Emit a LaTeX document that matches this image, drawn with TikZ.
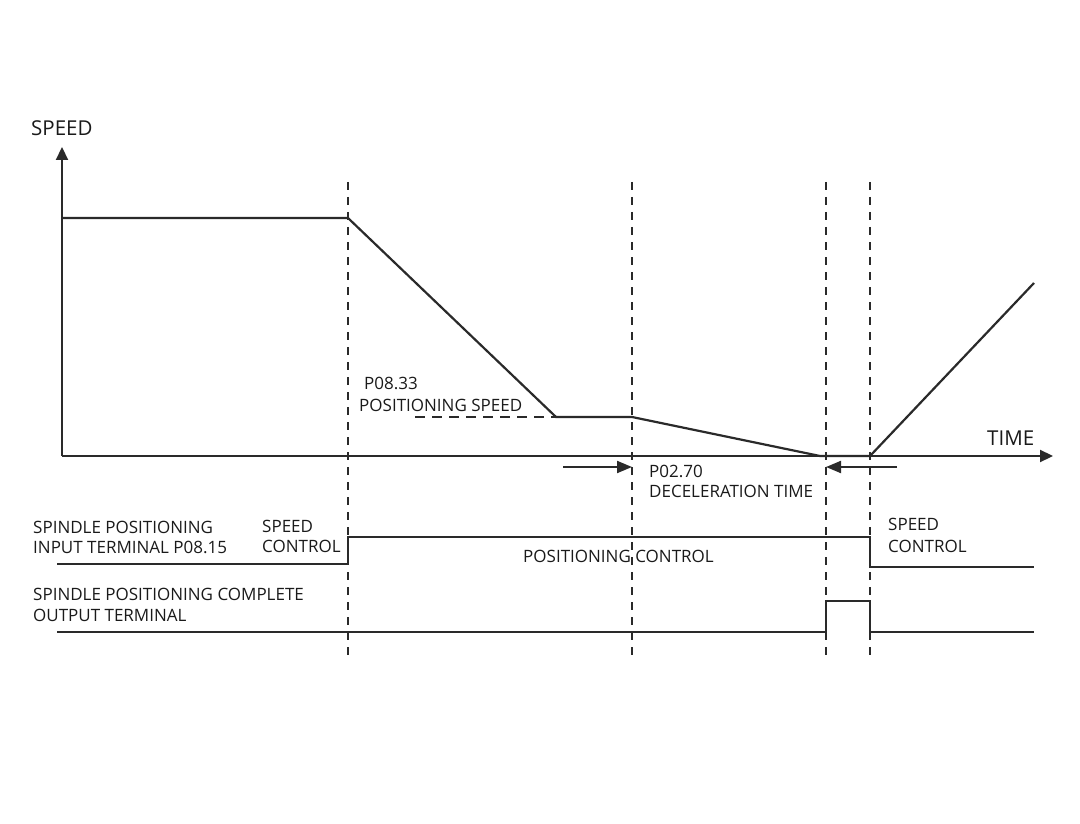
\documentclass[tikz,border=0pt]{standalone}
\usepackage{fontspec}
\setmainfont{Open Sans}
\usetikzlibrary{positioning,arrows.meta}
\definecolor{LineDark}{HTML}{2A2A2A}
\definecolor{TextDark}{HTML}{1A1A1A}

\begin{document}
\begin{tikzpicture}[x=1pt,y=-1pt,
    trace/.style={draw=LineDark, line width=2.2pt, line join=miter},
    guide/.style={draw=LineDark, line width=1.7pt, dash pattern=on 8pt off 7pt},
    level/.style={draw=LineDark, line width=1.7pt, dash pattern=on 10pt off 7pt},
    axisarrow/.style={draw=LineDark, line width=2.2pt, -{Triangle[length=13pt,width=12pt]}},
    timearrow/.style={draw=LineDark, line width=2pt, -{Triangle[length=15pt,width=12pt]}},
    lbl/.style={anchor=base west, inner sep=0pt, text=TextDark, font=\fontsize{17}{21}\selectfont},
    biglbl/.style={lbl, font=\fontsize{20.5}{24}\selectfont}]
  \useasboundingbox (0,0) rectangle (1080,824);

  % axes
  \coordinate (origin) at (62,456);
  \coordinate (ytip) at (62,147);
  \coordinate (xtip) at (1053,456);
  \draw[axisarrow] (origin) -- (ytip);
  \draw[axisarrow] (origin) -- (xtip);
  \node[biglbl] (speedlbl) at (31,136) {SPEED};
  \node[biglbl] (timelbl) at (987,445) {TIME};

  % guide lines
  \foreach \name/\xx in {ga/348, gb/632, gc/826, gd/870} {
    \coordinate (\name top) at (\xx,182);
    \coordinate (\name bot) at (\xx,658);
    \draw[guide] (\name top) -- (\name bot);
  }

  % speed profile
  \coordinate (s0) at (62,218);
  \coordinate (s1) at (348,218);
  \coordinate (s2) at (556,417);
  \coordinate (s3) at (632,417);
  \coordinate (s4) at (820,456);
  \coordinate (s5) at (870,456);
  \coordinate (s6) at (1034,283);
  \draw[trace] (s0) -- (s1) -- (s2) -- (s3) -- (s4) -- (s5) -- (s6);
  \coordinate (lvl) at (415,417);
  \draw[level] (lvl) -- (s2);
  \node[lbl] (possp1) at (364,389) {P08.33};
  \node[lbl] (possp2) at (359,411) {POSITIONING SPEED};

  % deceleration time
  \coordinate (da) at (563,467);
  \coordinate (db) at (632,467);
  \coordinate (dc) at (897,467);
  \coordinate (dd) at (826,467);
  \draw[timearrow] (da) -- (db);
  \draw[timearrow] (dc) -- (dd);
  \node[lbl] (dec1) at (649,477) {P02.70};
  \node[lbl] (dec2) at (649,497) {DECELERATION TIME};

  % positioning input terminal
  \coordinate (i0) at (57,564);
  \coordinate (i1) at (348,564);
  \coordinate (i2) at (348,537);
  \coordinate (i3) at (870,537);
  \coordinate (i4) at (870,567);
  \coordinate (i5) at (1034,567);
  \draw[trace] (i0) -- (i1) -- (i2) -- (i3) -- (i4) -- (i5);
  \node[lbl] (in1) at (33,533) {SPINDLE POSITIONING};
  \node[lbl] (in2) at (33,553) {INPUT TERMINAL P08.15};
  \node[lbl] (sc1) at (262,532) {SPEED};
  \node[lbl] (sc2) at (262,552) {CONTROL};
  \node[lbl] (pc) at (523,562) {POSITIONING CONTROL};
  \node[lbl] (sc3) at (888,530) {SPEED};
  \node[lbl] (sc4) at (888,552) {CONTROL};

  % positioning complete output
  \coordinate (o0) at (57,632);
  \coordinate (o1) at (826,632);
  \coordinate (o2) at (826,601);
  \coordinate (o3) at (870,601);
  \coordinate (o4) at (870,632);
  \coordinate (o5) at (1034,632);
  \draw[trace] (o0) -- (o1) -- (o2) -- (o3) -- (o4) -- (o5);
  \node[lbl] (out1) at (33,600) {SPINDLE POSITIONING COMPLETE};
  \node[lbl] (out2) at (33,621) {OUTPUT TERMINAL};
\end{tikzpicture}
\end{document}
